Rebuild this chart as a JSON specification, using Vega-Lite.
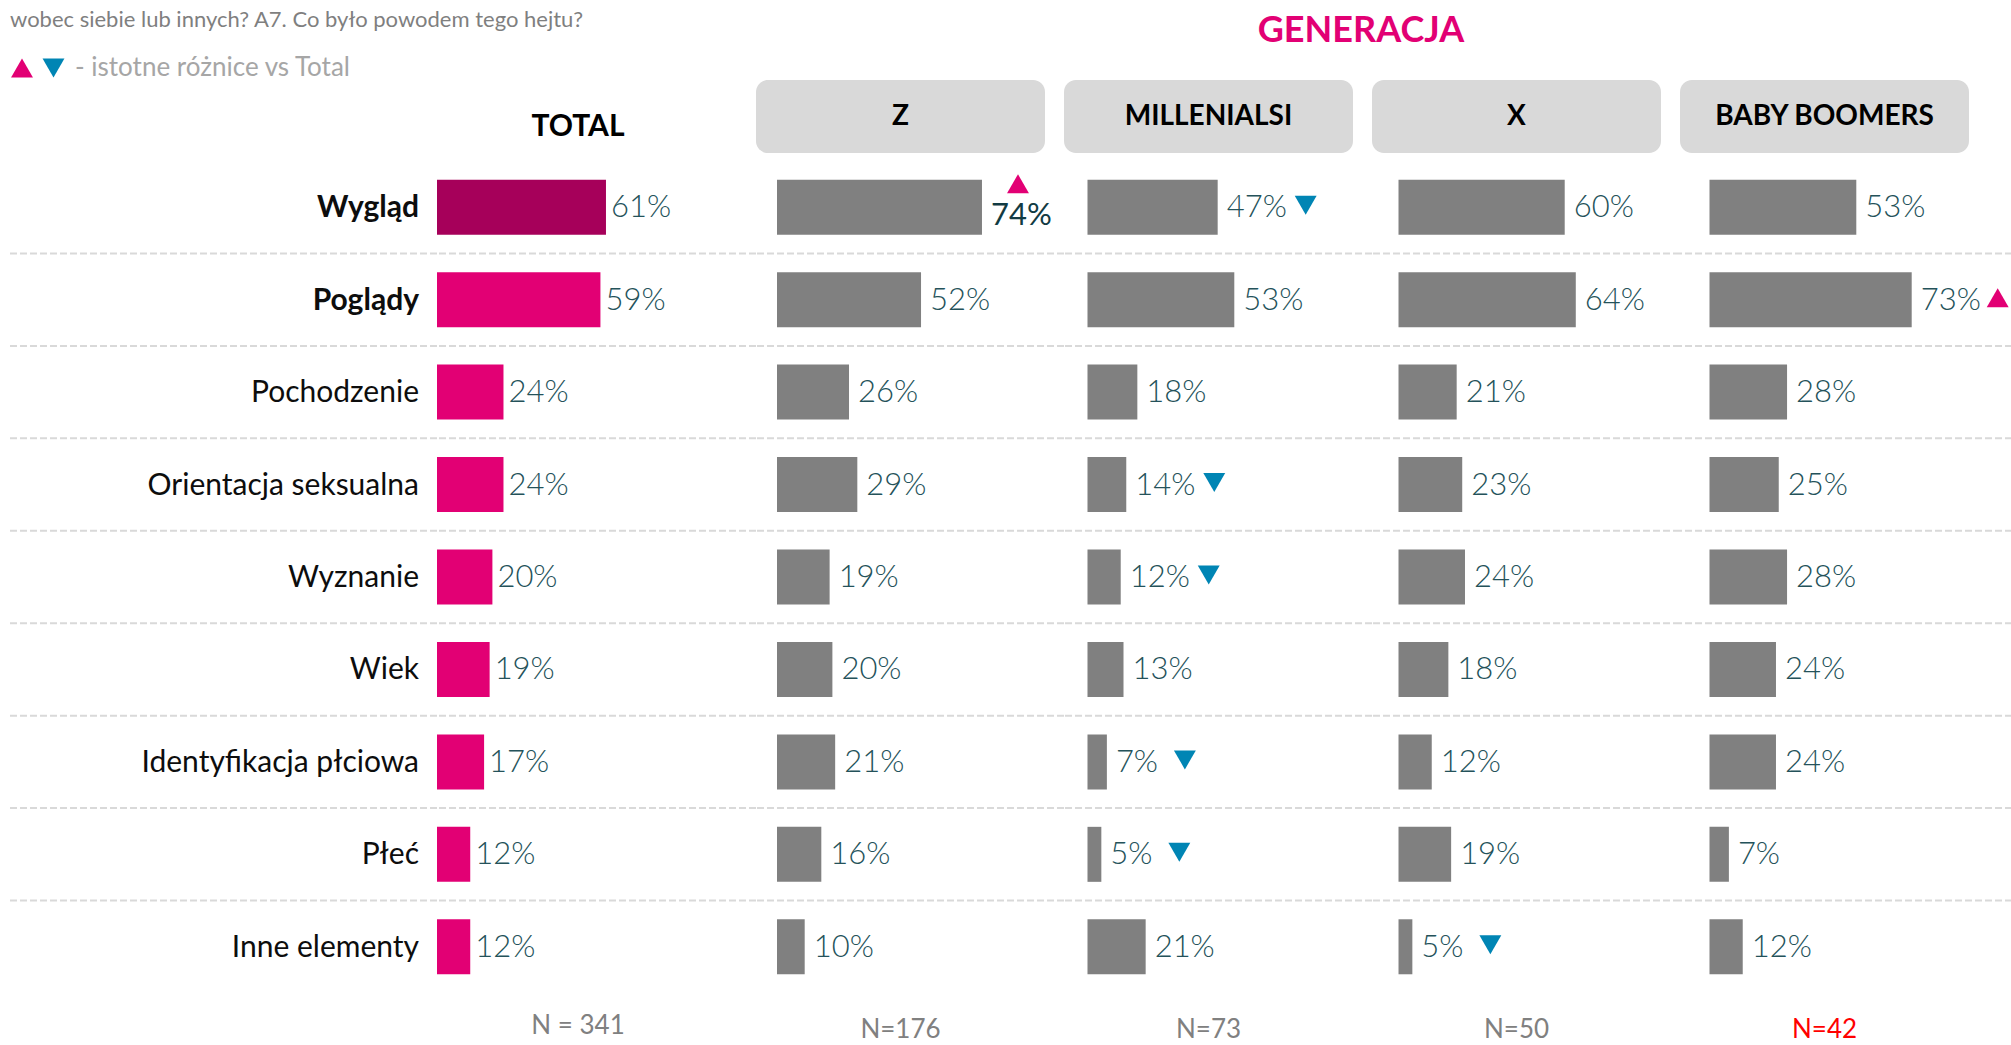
{
  "$schema": "https://vega.github.io/schema/vega-lite/v6.json",
  "background": "white",
  "padding": {"left": 8, "top": 3, "right": 0, "bottom": 0},
  "autosize": {"type": "pad"},
  "config": {"view": {"stroke": null}, "font": "Lato"},
  "datasets": {
    "rows": [
      {"gen": "Total", "cat": "Wygląd", "v": 0.61},
      {"gen": "Total", "cat": "Poglądy", "v": 0.59},
      {"gen": "Total", "cat": "Pochodzenie", "v": 0.24},
      {"gen": "Total", "cat": "Orientacja seksualna", "v": 0.24},
      {"gen": "Total", "cat": "Wyznanie", "v": 0.20},
      {"gen": "Total", "cat": "Wiek", "v": 0.19},
      {"gen": "Total", "cat": "Identyfikacja płciowa", "v": 0.17},
      {"gen": "Total", "cat": "Płeć", "v": 0.12},
      {"gen": "Total", "cat": "Inne elementy", "v": 0.12},
      {"gen": "Z", "cat": "Wygląd", "v": 0.74, "sig": "up"},
      {"gen": "Z", "cat": "Poglądy", "v": 0.52},
      {"gen": "Z", "cat": "Pochodzenie", "v": 0.26},
      {"gen": "Z", "cat": "Orientacja seksualna", "v": 0.29},
      {"gen": "Z", "cat": "Wyznanie", "v": 0.19},
      {"gen": "Z", "cat": "Wiek", "v": 0.20},
      {"gen": "Z", "cat": "Identyfikacja płciowa", "v": 0.21},
      {"gen": "Z", "cat": "Płeć", "v": 0.16},
      {"gen": "Z", "cat": "Inne elementy", "v": 0.10},
      {"gen": "M", "cat": "Wygląd", "v": 0.47, "sig": "down"},
      {"gen": "M", "cat": "Poglądy", "v": 0.53},
      {"gen": "M", "cat": "Pochodzenie", "v": 0.18},
      {"gen": "M", "cat": "Orientacja seksualna", "v": 0.14, "sig": "down"},
      {"gen": "M", "cat": "Wyznanie", "v": 0.12, "sig": "down"},
      {"gen": "M", "cat": "Wiek", "v": 0.13},
      {"gen": "M", "cat": "Identyfikacja płciowa", "v": 0.07, "sig": "down"},
      {"gen": "M", "cat": "Płeć", "v": 0.05, "sig": "down"},
      {"gen": "M", "cat": "Inne elementy", "v": 0.21},
      {"gen": "X", "cat": "Wygląd", "v": 0.60},
      {"gen": "X", "cat": "Poglądy", "v": 0.64},
      {"gen": "X", "cat": "Pochodzenie", "v": 0.21},
      {"gen": "X", "cat": "Orientacja seksualna", "v": 0.23},
      {"gen": "X", "cat": "Wyznanie", "v": 0.24},
      {"gen": "X", "cat": "Wiek", "v": 0.18},
      {"gen": "X", "cat": "Identyfikacja płciowa", "v": 0.12},
      {"gen": "X", "cat": "Płeć", "v": 0.19},
      {"gen": "X", "cat": "Inne elementy", "v": 0.05, "sig": "down"},
      {"gen": "BB", "cat": "Wygląd", "v": 0.53},
      {"gen": "BB", "cat": "Poglądy", "v": 0.73, "sig": "up"},
      {"gen": "BB", "cat": "Pochodzenie", "v": 0.28},
      {"gen": "BB", "cat": "Orientacja seksualna", "v": 0.25},
      {"gen": "BB", "cat": "Wyznanie", "v": 0.28},
      {"gen": "BB", "cat": "Wiek", "v": 0.24},
      {"gen": "BB", "cat": "Identyfikacja płciowa", "v": 0.24},
      {"gen": "BB", "cat": "Płeć", "v": 0.07},
      {"gen": "BB", "cat": "Inne elementy", "v": 0.12}
    ],
    "cols": [
      {"gen": "Total", "head": "TOTAL", "n": "N = 341"},
      {"gen": "Z", "head": "Z", "n": "N=176"},
      {"gen": "M", "head": "MILLENIALSI", "n": "N=73"},
      {"gen": "X", "head": "X", "n": "N=50"},
      {"gen": "BB", "head": "BABY BOOMERS", "n": "N=42"}
    ],
    "top": [
      {"q": "wobec siebie lub innych? A7. Co było powodem tego hejtu?", "leg": "- istotne różnice vs Total", "gtitle": "GENERACJA"}
    ]
  },
  "columns": 6,
  "spacing": {"row": 8, "column": 0},
  "bounds": "flush",
  "align": "each",
  "resolve": {"scale": {"x": "independent", "y": "independent"}},
  "concat": [
    {
      "width": 428, "height": 69,
      "view": {"fill": "white", "stroke": null},
      "data": {"name": "top"},
      "layer": [
        {"mark": {"type": "text", "align": "left", "baseline": "middle", "dx": -213, "dy": -17.5, "fontSize": 22, "font": "Lato", "color": "#7f7f7f"},
         "encoding": {"text": {"field": "q", "type": "nominal"}}},
        {"mark": {"type": "point", "shape": "triangle-up", "filled": true, "size": 480, "color": "#e20074", "opacity": 1, "xOffset": -201, "yOffset": 30.5},
         "encoding": {}},
        {"mark": {"type": "point", "shape": "triangle-down", "filled": true, "size": 480, "color": "#0085b4", "opacity": 1, "xOffset": -169.5, "yOffset": 30.5},
         "encoding": {}},
        {"mark": {"type": "text", "align": "left", "baseline": "middle", "dx": -148, "dy": 30.5, "fontSize": 26, "font": "Lato", "color": "#a6a6a6"},
         "encoding": {"text": {"field": "leg", "type": "nominal"}}}
      ]
    },
    {"width": 282, "height": 69, "data": {"values": [{}]}, "mark": "text", "encoding": {"text": {"value": ""}}},
    {"width": 289, "height": 69, "data": {"values": [{}]}, "mark": "text", "encoding": {"text": {"value": ""}}},
    {
      "width": 289, "height": 69,
      "data": {"name": "top"},
      "mark": {"type": "text", "align": "center", "baseline": "middle", "dx": 152.5, "dy": -6.5, "fontSize": 36, "font": "Lato", "fontWeight": "bold", "color": "#e20074"},
      "encoding": {"text": {"field": "gtitle", "type": "nominal"}}
    },
    {"width": 289, "height": 69, "data": {"values": [{}]}, "mark": "text", "encoding": {"text": {"value": ""}}},
    {"width": 289, "height": 69, "data": {"values": [{}]}, "mark": "text", "encoding": {"text": {"value": ""}}},

    {"width": 428, "height": 73, "data": {"values": [{}]}, "mark": "text", "encoding": {"text": {"value": ""}}},
    {
      "width": 282, "height": 73,
      "data": {"name": "cols"},
      "transform": [{"filter": "datum.gen === 'Total'"}],
      "mark": {"type": "text", "align": "center", "baseline": "middle", "dy": 10, "fontSize": 30, "font": "Lato", "fontWeight": "bold", "color": "#000000"},
      "encoding": {"text": {"field": "head", "type": "nominal"}}
    },
    {
      "width": 289, "height": 73,
      "view": {"fill": "#d9d9d9", "cornerRadius": 12, "stroke": null},
      "data": {"name": "cols"},
      "transform": [{"filter": "datum.gen === 'Z'"}],
      "mark": {"type": "text", "align": "center", "baseline": "middle", "fontSize": 28, "font": "Lato", "fontWeight": "bold", "color": "#000000"},
      "encoding": {"text": {"field": "head", "type": "nominal"}}
    },
    {
      "width": 289, "height": 73,
      "view": {"fill": "#d9d9d9", "cornerRadius": 12, "stroke": null},
      "data": {"name": "cols"},
      "transform": [{"filter": "datum.gen === 'M'"}],
      "mark": {"type": "text", "align": "center", "baseline": "middle", "fontSize": 28, "font": "Lato", "fontWeight": "bold", "color": "#000000"},
      "encoding": {"text": {"field": "head", "type": "nominal"}}
    },
    {
      "width": 289, "height": 73,
      "view": {"fill": "#d9d9d9", "cornerRadius": 12, "stroke": null},
      "data": {"name": "cols"},
      "transform": [{"filter": "datum.gen === 'X'"}],
      "mark": {"type": "text", "align": "center", "baseline": "middle", "fontSize": 28, "font": "Lato", "fontWeight": "bold", "color": "#000000"},
      "encoding": {"text": {"field": "head", "type": "nominal"}}
    },
    {
      "width": 289, "height": 73,
      "view": {"fill": "#d9d9d9", "cornerRadius": 12, "stroke": null},
      "data": {"name": "cols"},
      "transform": [{"filter": "datum.gen === 'BB'"}],
      "mark": {"type": "text", "align": "center", "baseline": "middle", "fontSize": 28, "font": "Lato", "fontWeight": "bold", "color": "#000000"},
      "encoding": {"text": {"field": "head", "type": "nominal"}}
    },

    {
      "width": 428, "height": 832,
      "data": {"name": "rows"},
      "transform": [{"filter": "datum.gen === 'Total'"}],
      "layer": [
        {"mark": {"type": "rule", "color": "#d9d9d9", "strokeWidth": 2, "strokeDash": [7, 3]},
         "transform": [{"filter": "datum.cat !== 'Wygląd'"}],
         "encoding": {"y": {"field": "cat", "type": "nominal", "bandPosition": 0, "axis": null,
           "scale": {"type": "band", "domain": ["Wygląd", "Poglądy", "Pochodzenie", "Orientacja seksualna", "Wyznanie", "Wiek", "Identyfikacja płciowa", "Płeć", "Inne elementy"], "paddingInner": 0, "paddingOuter": 0}}}},
        {"mark": {"type": "text", "align": "right", "baseline": "middle", "dx": 196, "dy": 1, "fontSize": 30, "font": "Lato", "color": "#0d0d0d"},
         "transform": [{"filter": "datum.cat !== 'Wygląd' && datum.cat !== 'Poglądy'"}],
         "encoding": {"y": {"field": "cat", "type": "nominal", "bandPosition": 0.5, "axis": null}, "text": {"field": "cat", "type": "nominal"}}},
        {"mark": {"type": "text", "align": "right", "baseline": "middle", "dx": 196, "dy": 1, "fontSize": 30, "font": "Lato", "fontWeight": "bold", "color": "#0d0d0d"},
         "transform": [{"filter": "datum.cat === 'Wygląd' || datum.cat === 'Poglądy'"}],
         "encoding": {"y": {"field": "cat", "type": "nominal", "bandPosition": 0.5, "axis": null}, "text": {"field": "cat", "type": "nominal"}}}
      ]
    },
    {
      "width": 319, "height": 832,
      "data": {"name": "rows"},
      "transform": [{"filter": "datum.gen === 'Total'"}],
      "encoding": {
        "y": {"field": "cat", "type": "nominal", "axis": null,
          "scale": {"type": "band", "domain": ["Wygląd", "Poglądy", "Pochodzenie", "Orientacja seksualna", "Wyznanie", "Wiek", "Identyfikacja płciowa", "Płeć", "Inne elementy"], "paddingInner": 0, "paddingOuter": 0}},
        "x": {"field": "v", "type": "quantitative", "axis": null, "scale": {"domain": [0, 1.1516], "nice": false, "zero": false}}
      },
      "layer": [
        {"mark": {"type": "rule", "color": "#d9d9d9", "strokeWidth": 2, "strokeDash": [7, 3]},
         "transform": [{"filter": "datum.cat !== 'Wygląd'"}],
         "encoding": {"x": null, "y": {"field": "cat", "type": "nominal", "bandPosition": 0, "axis": null}}},
        {"mark": {"type": "bar", "height": {"band": 0.595}},
         "encoding": {"color": {"condition": {"test": "datum.cat === 'Wygląd'", "value": "#a6005a"}, "value": "#e20074"}}},
        {"mark": {"type": "text", "align": "left", "baseline": "middle", "dx": 5, "dy": 1, "fontSize": 31, "font": "Lato", "fontWeight": 300, "color": "#24525a"},
         "encoding": {"y": {"field": "cat", "type": "nominal", "bandPosition": 0.5, "axis": null}, "text": {"field": "v", "type": "quantitative", "format": ".0%"}}}
      ]
    },
    {
      "width": 308, "height": 832,
      "data": {"name": "rows"},
      "transform": [{"filter": "datum.gen === 'Z'"}],
      "encoding": {
        "y": {"field": "cat", "type": "nominal", "axis": null,
          "scale": {"type": "band", "domain": ["Wygląd", "Poglądy", "Pochodzenie", "Orientacja seksualna", "Wyznanie", "Wiek", "Identyfikacja płciowa", "Płeć", "Inne elementy"], "paddingInner": 0, "paddingOuter": 0}},
        "x": {"field": "v", "type": "quantitative", "axis": null, "scale": {"domain": [-0.0758, 1.0361], "nice": false, "zero": false}}
      },
      "layer": [
        {"mark": {"type": "rule", "color": "#d9d9d9", "strokeWidth": 2, "strokeDash": [7, 3]},
         "transform": [{"filter": "datum.cat !== 'Wygląd'"}],
         "encoding": {"x": null, "y": {"field": "cat", "type": "nominal", "bandPosition": 0, "axis": null}}},
        {"mark": {"type": "bar", "height": {"band": 0.595}, "color": "#808080"}},
        {"mark": {"type": "text", "align": "left", "baseline": "middle", "dx": 9, "dy": 1, "fontSize": 31, "font": "Lato", "fontWeight": 300, "color": "#24525a"},
         "transform": [{"filter": "!(datum.cat === 'Wygląd')"}],
         "encoding": {"y": {"field": "cat", "type": "nominal", "bandPosition": 0.5, "axis": null}, "text": {"field": "v", "type": "quantitative", "format": ".0%"}}},
        {"mark": {"type": "text", "align": "left", "baseline": "middle", "dx": 9, "dy": 9, "fontSize": 31, "font": "Lato", "fontWeight": 400, "color": "#123b43"},
         "transform": [{"filter": "datum.cat === 'Wygląd'"}],
         "encoding": {"y": {"field": "cat", "type": "nominal", "bandPosition": 0.5, "axis": null}, "text": {"field": "v", "type": "quantitative", "format": ".0%"}}},
        {"mark": {"type": "point", "filled": true, "size": 480, "opacity": 1, "xOffset": 36, "yOffset": -23.5},
         "transform": [{"filter": "datum.sig && datum.cat === 'Wygląd'"}],
         "encoding": {"y": {"field": "cat", "type": "nominal", "bandPosition": 0.5, "axis": null},
           "color": {"field": "sig", "type": "nominal", "legend": null, "scale": {"domain": ["up", "down"], "range": ["#e20074", "#0085b4"]}},
           "shape": {"field": "sig", "type": "nominal", "legend": null, "scale": {"domain": ["up", "down"], "range": ["triangle-up", "triangle-down"]}}}}
      ]
    },
    {
      "width": 308, "height": 832,
      "data": {"name": "rows"},
      "transform": [{"filter": "datum.gen === 'M'"}],
      "encoding": {
        "y": {"field": "cat", "type": "nominal", "axis": null,
          "scale": {"type": "band", "domain": ["Wygląd", "Poglądy", "Pochodzenie", "Orientacja seksualna", "Wyznanie", "Wiek", "Identyfikacja płciowa", "Płeć", "Inne elementy"], "paddingInner": 0, "paddingOuter": 0}},
        "x": {"field": "v", "type": "quantitative", "axis": null, "scale": {"domain": [-0.0848, 1.0271], "nice": false, "zero": false}}
      },
      "layer": [
        {"mark": {"type": "rule", "color": "#d9d9d9", "strokeWidth": 2, "strokeDash": [7, 3]},
         "transform": [{"filter": "datum.cat !== 'Wygląd'"}],
         "encoding": {"x": null, "y": {"field": "cat", "type": "nominal", "bandPosition": 0, "axis": null}}},
        {"mark": {"type": "bar", "height": {"band": 0.595}, "color": "#808080"}},
        {"mark": {"type": "text", "align": "left", "baseline": "middle", "dx": 9, "dy": 1, "fontSize": 31, "font": "Lato", "fontWeight": 300, "color": "#24525a"},
         "encoding": {"y": {"field": "cat", "type": "nominal", "bandPosition": 0.5, "axis": null}, "text": {"field": "v", "type": "quantitative", "format": ".0%"}}},
        {"mark": {"type": "point", "filled": true, "size": 480, "opacity": 1, "xOffset": 88, "yOffset": -2},
         "transform": [{"filter": "datum.sig && datum.v >= 0.095"}],
         "encoding": {"y": {"field": "cat", "type": "nominal", "bandPosition": 0.5, "axis": null},
           "color": {"field": "sig", "type": "nominal", "legend": null, "scale": {"domain": ["up", "down"], "range": ["#e20074", "#0085b4"]}},
           "shape": {"field": "sig", "type": "nominal", "legend": null, "scale": {"domain": ["up", "down"], "range": ["triangle-up", "triangle-down"]}}}},
        {"mark": {"type": "point", "filled": true, "size": 480, "opacity": 1, "xOffset": 78, "yOffset": -2},
         "transform": [{"filter": "datum.sig && datum.v < 0.095"}],
         "encoding": {"y": {"field": "cat", "type": "nominal", "bandPosition": 0.5, "axis": null},
           "color": {"field": "sig", "type": "nominal", "legend": null, "scale": {"domain": ["up", "down"], "range": ["#e20074", "#0085b4"]}},
           "shape": {"field": "sig", "type": "nominal", "legend": null, "scale": {"domain": ["up", "down"], "range": ["triangle-up", "triangle-down"]}}}}
      ]
    },
    {
      "width": 308, "height": 832,
      "data": {"name": "rows"},
      "transform": [{"filter": "datum.gen === 'X'"}],
      "encoding": {
        "y": {"field": "cat", "type": "nominal", "axis": null,
          "scale": {"type": "band", "domain": ["Wygląd", "Poglądy", "Pochodzenie", "Orientacja seksualna", "Wyznanie", "Wiek", "Identyfikacja płciowa", "Płeć", "Inne elementy"], "paddingInner": 0, "paddingOuter": 0}},
        "x": {"field": "v", "type": "quantitative", "axis": null, "scale": {"domain": [-0.0957, 1.0162], "nice": false, "zero": false}}
      },
      "layer": [
        {"mark": {"type": "rule", "color": "#d9d9d9", "strokeWidth": 2, "strokeDash": [7, 3]},
         "transform": [{"filter": "datum.cat !== 'Wygląd'"}],
         "encoding": {"x": null, "y": {"field": "cat", "type": "nominal", "bandPosition": 0, "axis": null}}},
        {"mark": {"type": "bar", "height": {"band": 0.595}, "color": "#808080"}},
        {"mark": {"type": "text", "align": "left", "baseline": "middle", "dx": 9, "dy": 1, "fontSize": 31, "font": "Lato", "fontWeight": 300, "color": "#24525a"},
         "encoding": {"y": {"field": "cat", "type": "nominal", "bandPosition": 0.5, "axis": null}, "text": {"field": "v", "type": "quantitative", "format": ".0%"}}},
        {"mark": {"type": "point", "filled": true, "size": 480, "opacity": 1, "xOffset": 88, "yOffset": -2},
         "transform": [{"filter": "datum.sig && datum.v >= 0.095"}],
         "encoding": {"y": {"field": "cat", "type": "nominal", "bandPosition": 0.5, "axis": null},
           "color": {"field": "sig", "type": "nominal", "legend": null, "scale": {"domain": ["up", "down"], "range": ["#e20074", "#0085b4"]}},
           "shape": {"field": "sig", "type": "nominal", "legend": null, "scale": {"domain": ["up", "down"], "range": ["triangle-up", "triangle-down"]}}}},
        {"mark": {"type": "point", "filled": true, "size": 480, "opacity": 1, "xOffset": 78, "yOffset": -2},
         "transform": [{"filter": "datum.sig && datum.v < 0.095"}],
         "encoding": {"y": {"field": "cat", "type": "nominal", "bandPosition": 0.5, "axis": null},
           "color": {"field": "sig", "type": "nominal", "legend": null, "scale": {"domain": ["up", "down"], "range": ["#e20074", "#0085b4"]}},
           "shape": {"field": "sig", "type": "nominal", "legend": null, "scale": {"domain": ["up", "down"], "range": ["triangle-up", "triangle-down"]}}}}
      ]
    },
    {
      "width": 332, "height": 832,
      "data": {"name": "rows"},
      "transform": [{"filter": "datum.gen === 'BB'"}],
      "encoding": {
        "y": {"field": "cat", "type": "nominal", "axis": null,
          "scale": {"type": "band", "domain": ["Wygląd", "Poglądy", "Pochodzenie", "Orientacja seksualna", "Wyznanie", "Wiek", "Identyfikacja płciowa", "Płeć", "Inne elementy"], "paddingInner": 0, "paddingOuter": 0}},
        "x": {"field": "v", "type": "quantitative", "axis": null, "scale": {"domain": [-0.1065, 1.0921], "nice": false, "zero": false}}
      },
      "layer": [
        {"mark": {"type": "rule", "color": "#d9d9d9", "strokeWidth": 2, "strokeDash": [7, 3]},
         "transform": [{"filter": "datum.cat !== 'Wygląd'"}],
         "encoding": {"x": null, "y": {"field": "cat", "type": "nominal", "bandPosition": 0, "axis": null}}},
        {"mark": {"type": "bar", "height": {"band": 0.595}, "color": "#808080"}},
        {"mark": {"type": "text", "align": "left", "baseline": "middle", "dx": 9, "dy": 1, "fontSize": 31, "font": "Lato", "fontWeight": 300, "color": "#24525a"},
         "encoding": {"y": {"field": "cat", "type": "nominal", "bandPosition": 0.5, "axis": null}, "text": {"field": "v", "type": "quantitative", "format": ".0%"}}},
        {"mark": {"type": "point", "filled": true, "size": 480, "opacity": 1, "xOffset": 86, "yOffset": -2},
         "transform": [{"filter": "datum.sig && datum.v >= 0.095"}],
         "encoding": {"y": {"field": "cat", "type": "nominal", "bandPosition": 0.5, "axis": null},
           "color": {"field": "sig", "type": "nominal", "legend": null, "scale": {"domain": ["up", "down"], "range": ["#e20074", "#0085b4"]}},
           "shape": {"field": "sig", "type": "nominal", "legend": null, "scale": {"domain": ["up", "down"], "range": ["triangle-up", "triangle-down"]}}}},
        {"mark": {"type": "point", "filled": true, "size": 480, "opacity": 1, "xOffset": 78, "yOffset": -2},
         "transform": [{"filter": "datum.sig && datum.v < 0.095"}],
         "encoding": {"y": {"field": "cat", "type": "nominal", "bandPosition": 0.5, "axis": null},
           "color": {"field": "sig", "type": "nominal", "legend": null, "scale": {"domain": ["up", "down"], "range": ["#e20074", "#0085b4"]}},
           "shape": {"field": "sig", "type": "nominal", "legend": null, "scale": {"domain": ["up", "down"], "range": ["triangle-up", "triangle-down"]}}}}
      ]
    },

    {"width": 428, "height": 47, "data": {"values": [{}]}, "mark": "text", "encoding": {"text": {"value": ""}}},
    {
      "width": 282, "height": 47,
      "data": {"name": "cols"},
      "transform": [{"filter": "datum.gen === 'Total'"}],
      "mark": {"type": "text", "align": "center", "baseline": "middle", "dy": 1.5, "fontSize": 26, "font": "Lato", "color": "#808080"},
      "encoding": {"text": {"field": "n", "type": "nominal"}}
    },
    {
      "width": 289, "height": 47,
      "data": {"name": "cols"},
      "transform": [{"filter": "datum.gen === 'Z'"}],
      "mark": {"type": "text", "align": "center", "baseline": "middle", "dy": 5.5, "fontSize": 26, "font": "Lato", "color": "#808080"},
      "encoding": {"text": {"field": "n", "type": "nominal"}}
    },
    {
      "width": 289, "height": 47,
      "data": {"name": "cols"},
      "transform": [{"filter": "datum.gen === 'M'"}],
      "mark": {"type": "text", "align": "center", "baseline": "middle", "dy": 5.5, "fontSize": 26, "font": "Lato", "color": "#808080"},
      "encoding": {"text": {"field": "n", "type": "nominal"}}
    },
    {
      "width": 289, "height": 47,
      "data": {"name": "cols"},
      "transform": [{"filter": "datum.gen === 'X'"}],
      "mark": {"type": "text", "align": "center", "baseline": "middle", "dy": 5.5, "fontSize": 26, "font": "Lato", "color": "#808080"},
      "encoding": {"text": {"field": "n", "type": "nominal"}}
    },
    {
      "width": 289, "height": 47,
      "data": {"name": "cols"},
      "transform": [{"filter": "datum.gen === 'BB'"}],
      "mark": {"type": "text", "align": "center", "baseline": "middle", "dy": 5.5, "fontSize": 26, "font": "Lato", "color": "#ff0000"},
      "encoding": {"text": {"field": "n", "type": "nominal"}}
    }
  ]
}
